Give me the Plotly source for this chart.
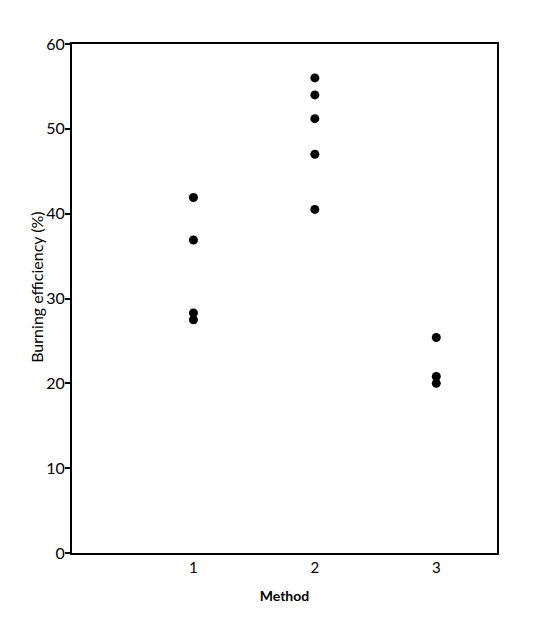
import plotly.graph_objects as go

method_1 = [41.9, 36.9, 28.3, 27.5]
method_2 = [56.0, 54.0, 51.2, 47.0, 40.5]
method_3 = [25.4, 20.8, 20.0]
x_ticks = [1, 2, 3]
x_labels = ["1", "2", "3"]
y_ticks = [0, 10, 20, 30, 40, 50, 60]
y_labels = ["0", "10", "20", "30", "40", "50", "60"]

xs = [1] * len(method_1) + [2] * len(method_2) + [3] * len(method_3)
ys = method_1 + method_2 + method_3

fig = go.Figure()
fig.add_trace(go.Scatter(
    x=xs, y=ys, mode="markers",
    marker=dict(color="black", size=9),
    showlegend=False, hoverinfo="skip"
))

font_family = "Lato, DejaVu Sans, sans-serif"

fig.update_layout(
    width=548, height=637,
    margin=dict(l=64, r=59, t=36, b=92),
    paper_bgcolor="white", plot_bgcolor="white",
    font=dict(family=font_family, color="black"),
    xaxis=dict(
        range=[0, 3.5], tickvals=x_ticks, ticktext=x_labels,
        showline=True, linecolor="black", linewidth=2, mirror=True,
        ticks="", showgrid=False, zeroline=False,
        tickfont=dict(size=15, color="black"),
        title=dict(text="<b>Method</b>", font=dict(size=14, color="black"), standoff=16),
        automargin=False,
    ),
    yaxis=dict(
        range=[0, 60], tickvals=y_ticks, ticktext=y_labels,
        showline=True, linecolor="black", linewidth=2, mirror=True,
        ticks="outside", ticklen=5, tickwidth=1.5, tickcolor="black",
        ticklabelstandoff=-3,
        showgrid=False, zeroline=False,
        tickfont=dict(size=16, color="black"),
        automargin=False,
    ),
    annotations=[dict(
        text="Burning efficiency (%)", textangle=-90,
        xref="paper", yref="paper", x=0, y=0.521,
        xanchor="center", yanchor="middle", xshift=-35,
        showarrow=False, font=dict(size=16, color="black"),
    )],
)

fig.write_html("out.html")
